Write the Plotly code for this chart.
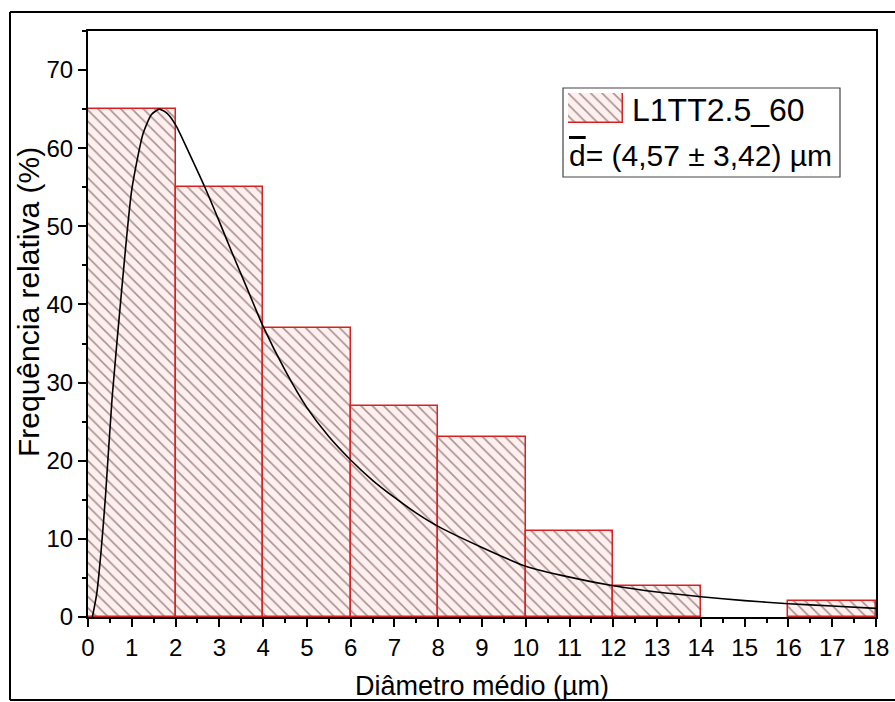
import plotly.graph_objects as go

# ---- data ----
bin_centers = [1, 3, 5, 7, 9, 11, 13, 15, 17]
bin_width = 2
freq = [65, 55, 37, 27, 23, 11, 4, 0, 2]

fit_x = [0.1, 0.2, 0.3, 0.4, 0.55, 0.77, 1.0, 1.26, 1.45, 1.63, 1.82, 2.02, 2.3,
         2.67, 3.0, 3.3, 3.6, 4.0, 4.5, 5.0, 5.5, 6.0, 6.5, 7.0, 7.5, 8.0, 9.0,
         10.0, 11.0, 12.0, 13.0, 14.0, 15.0, 16.0, 17.0, 18.0]
fit_y = [0.0, 3.0, 8.5, 15.5, 28.0, 41.9, 54.7, 61.9, 64.3, 65.0, 64.4, 62.8, 59.5,
         55.0, 50.6, 46.5, 42.5, 37.2, 31.6, 26.8, 23.1, 20.1, 17.5, 15.3, 13.3, 11.6, 8.9,
         6.5, 5.1, 4.0, 3.2, 2.6, 2.1, 1.7, 1.4, 1.1]

x_ticks = list(range(0, 19))
y_ticks = list(range(0, 80, 10))

series_name = "L1TT2.5_60"
stats_text = "<span style='text-decoration:overline'>d</span>= (4,57 ± 3,42) µm"
x_title = "Diâmetro médio (µm)"
y_title = "Frequência relativa (%)"

FONT = "Liberation Sans, Arial, sans-serif"
pattern = dict(shape="\\", fgcolor="#583030", bgcolor="#fff0f0", size=8, solidity=0.2)
BAR_RED = "#d92020"

# figure geometry (pixels)
W, H = 895, 702
L, R, T, B = 88, 876, 31, 617

def px(x):
    return (x - L) / (R - L)

def py(y):
    return (B - y) / (B - T)

fig = go.Figure()
fig.add_trace(go.Bar(x=bin_centers, y=freq, width=[bin_width] * len(freq),
                     marker=dict(color="#fff0f0", pattern=pattern,
                                 line=dict(color=BAR_RED, width=[0 if v == 0 else 1.5 for v in freq])),
                     name=series_name, showlegend=False))
fig.add_trace(go.Scatter(x=fit_x, y=fit_y, mode="lines",
                         line=dict(color="black", width=1.6, shape="spline", smoothing=0.6),
                         showlegend=False))

# legend swatch on its own small axes
fig.add_trace(go.Bar(x=[0], y=[1], width=[1], xaxis="x2", yaxis="y2",
                     marker=dict(color="#fff0f0", pattern=pattern, line=dict(color=BAR_RED, width=1.5)),
                     showlegend=False))

axis_common = dict(showline=True, linecolor="black", linewidth=2, mirror=True,
                   ticks="outside", ticklen=8, tickwidth=2, tickcolor="black",
                   showgrid=False, zeroline=False, layer="above traces", automargin=False,
                   tickfont=dict(family=FONT, size=24, color="black"))

fig.update_layout(
    width=W, height=H,
    margin=dict(l=L, r=W - R, t=T, b=H - B),
    paper_bgcolor="white", plot_bgcolor="white",
    bargap=0,
    xaxis=dict(range=[0, 18], tickvals=x_ticks, ticktext=[str(v) for v in x_ticks],
               minor=dict(ticks="outside", ticklen=4, tickwidth=2, dtick=0.5, tick0=0, tickcolor="black"),
               title=dict(text=x_title, font=dict(family=FONT, size=27, color="black"), standoff=16),
               **axis_common),
    yaxis=dict(range=[0, 75], tickvals=y_ticks, ticktext=[str(v) for v in y_ticks],
               minor=dict(ticks="outside", ticklen=4, tickwidth=2, dtick=5, tick0=0, tickcolor="black"),
               **axis_common),
    xaxis2=dict(domain=[px(568), px(623)], range=[-0.5, 0.5], visible=False, anchor="y2"),
    yaxis2=dict(domain=[py(123), py(93)], range=[0, 1], visible=False, anchor="x2"),
    showlegend=False,
)

shapes = [
    # legend box
    dict(type="rect", xref="paper", yref="paper", x0=px(563), x1=px(840), y0=py(177), y1=py(88),
         line=dict(color="#444444", width=1.2), fillcolor="rgba(0,0,0,0)", layer="above"),
    # outer frame (open on the right, as in the source image)
    dict(type="line", xref="paper", yref="paper", x0=px(10), x1=px(10), y0=py(700), y1=py(12),
         line=dict(color="black", width=2), layer="above"),
    dict(type="line", xref="paper", yref="paper", x0=px(10), x1=px(895), y0=py(12), y1=py(12),
         line=dict(color="black", width=2), layer="above"),
    dict(type="line", xref="paper", yref="paper", x0=px(10), x1=px(895), y0=py(700), y1=py(700),
         line=dict(color="black", width=2), layer="above"),
]
fig.update_layout(shapes=shapes)

fig.add_annotation(x=px(28), y=py(302), xref="paper", yref="paper", xanchor="center", yanchor="middle",
                   text=y_title, textangle=-90, showarrow=False,
                   font=dict(family=FONT, size=30, color="black"))
fig.add_annotation(x=px(630), y=py(110), xref="paper", yref="paper", xanchor="left", yanchor="middle",
                   text=series_name, showarrow=False, font=dict(family=FONT, size=32, color="black"))
fig.add_annotation(x=px(567), y=py(156), xref="paper", yref="paper", xanchor="left", yanchor="middle",
                   text=stats_text, showarrow=False, font=dict(family=FONT, size=30, color="black"))

fig.write_html("out.html")
